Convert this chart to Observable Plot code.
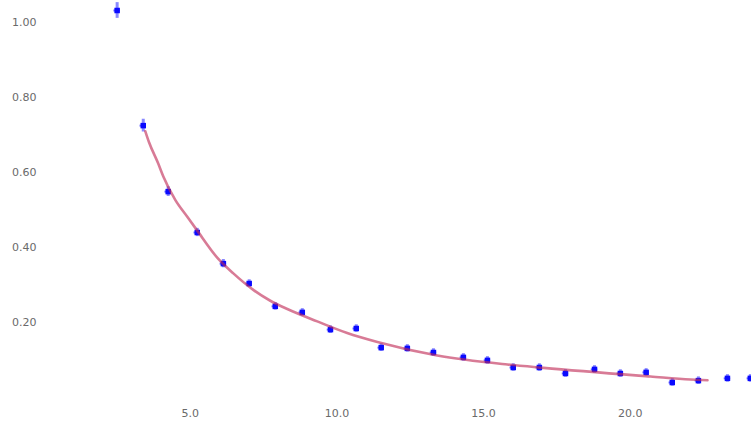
<!DOCTYPE html>
<html>
<head>
<meta charset="utf-8">
<script src="https://cdn.jsdelivr.net/npm/d3@7"></script>
<script src="https://cdn.jsdelivr.net/npm/@observablehq/plot@0.6"></script>
<style>
  html, body { margin: 0; padding: 0; background: #fff; }
  #chart svg { display: block; }
</style>
</head>
<body>
<div id="chart"></div>
<script>
// Measured points
const xs = [2.51, 3.40, 4.25, 5.24, 6.13, 7.01, 7.90, 8.82, 9.78, 10.66, 11.51, 12.40, 13.29, 14.31, 15.13, 16.01, 16.90, 17.79, 18.78, 19.66, 20.54, 21.43, 22.32, 23.31, 24.09];
const ys = [1.032, 0.725, 0.549, 0.440, 0.357, 0.304, 0.243, 0.227, 0.181, 0.184, 0.133, 0.131, 0.120, 0.107, 0.099, 0.080, 0.080, 0.064, 0.075, 0.064, 0.067, 0.040, 0.045, 0.051, 0.051];
const errs = [0.021, 0.017, 0.013, 0.011, 0.011, 0.010, 0.010, 0.010, 0.010, 0.010, 0.010, 0.010, 0.010, 0.010, 0.010, 0.010, 0.010, 0.010, 0.010, 0.010, 0.010, 0.010, 0.010, 0.010, 0.010];

// Fitted curve
const fitX = [3.47, 3.60, 3.91, 4.08, 4.49, 4.90, 5.24, 5.92, 6.47, 7.15, 7.73, 8.31, 9.33, 10.35, 11.38, 13.42, 15.81, 17.04, 20.69, 22.05, 22.63];
const fitY = [0.710, 0.680, 0.624, 0.590, 0.527, 0.482, 0.445, 0.373, 0.331, 0.287, 0.258, 0.236, 0.203, 0.172, 0.148, 0.112, 0.088, 0.079, 0.056, 0.048, 0.046];

// Axis ticks
const xTicks = [5, 10, 15, 20];
const yTicks = [0.2, 0.4, 0.6, 0.8, 1.0];

const points = xs.map((x, i) => ({x, y: ys[i], lo: ys[i] - errs[i], hi: ys[i] + errs[i]}));
const fit = fitX.map((x, i) => ({x, y: fitY[i]}));

const chart = Plot.plot({
  width: 751,
  height: 424,
  marginLeft: 43,
  marginRight: 0,
  marginTop: 4,
  marginBottom: 27,
  style: {fontFamily: "'DejaVu Sans', sans-serif", fontSize: "11px", color: "#6a6a6a", background: "#fff"},
  x: {domain: [0, 24.13], ticks: xTicks, tickSize: 0, tickPadding: 12, tickFormat: d => d.toFixed(1), label: null},
  y: {domain: [0, 1.048], ticks: yTicks, tickSize: 0, tickPadding: 7, tickFormat: d => d.toFixed(2), label: null},
  marks: [
    Plot.ruleX(points, {x: "x", y1: "lo", y2: "hi", stroke: "#3a3aff", strokeOpacity: 0.6, strokeWidth: 3}),
    Plot.ruleY(points, {y: "y", x1: d => d.x - 0.11, x2: d => d.x + 0.11, stroke: "#3030ff", strokeOpacity: 0.7, strokeWidth: 2}),
    Plot.dot(points, {x: "x", y: "y", symbol: "square", r: 3.1, fill: "#0a0aff", stroke: "none"}),
    Plot.line(fit, {x: "x", y: "y", curve: "monotone-x", stroke: "#c02a55", strokeOpacity: 0.62, strokeWidth: 2.6})
  ]
});
document.getElementById("chart").appendChild(chart);
</script>
</body>
</html>
